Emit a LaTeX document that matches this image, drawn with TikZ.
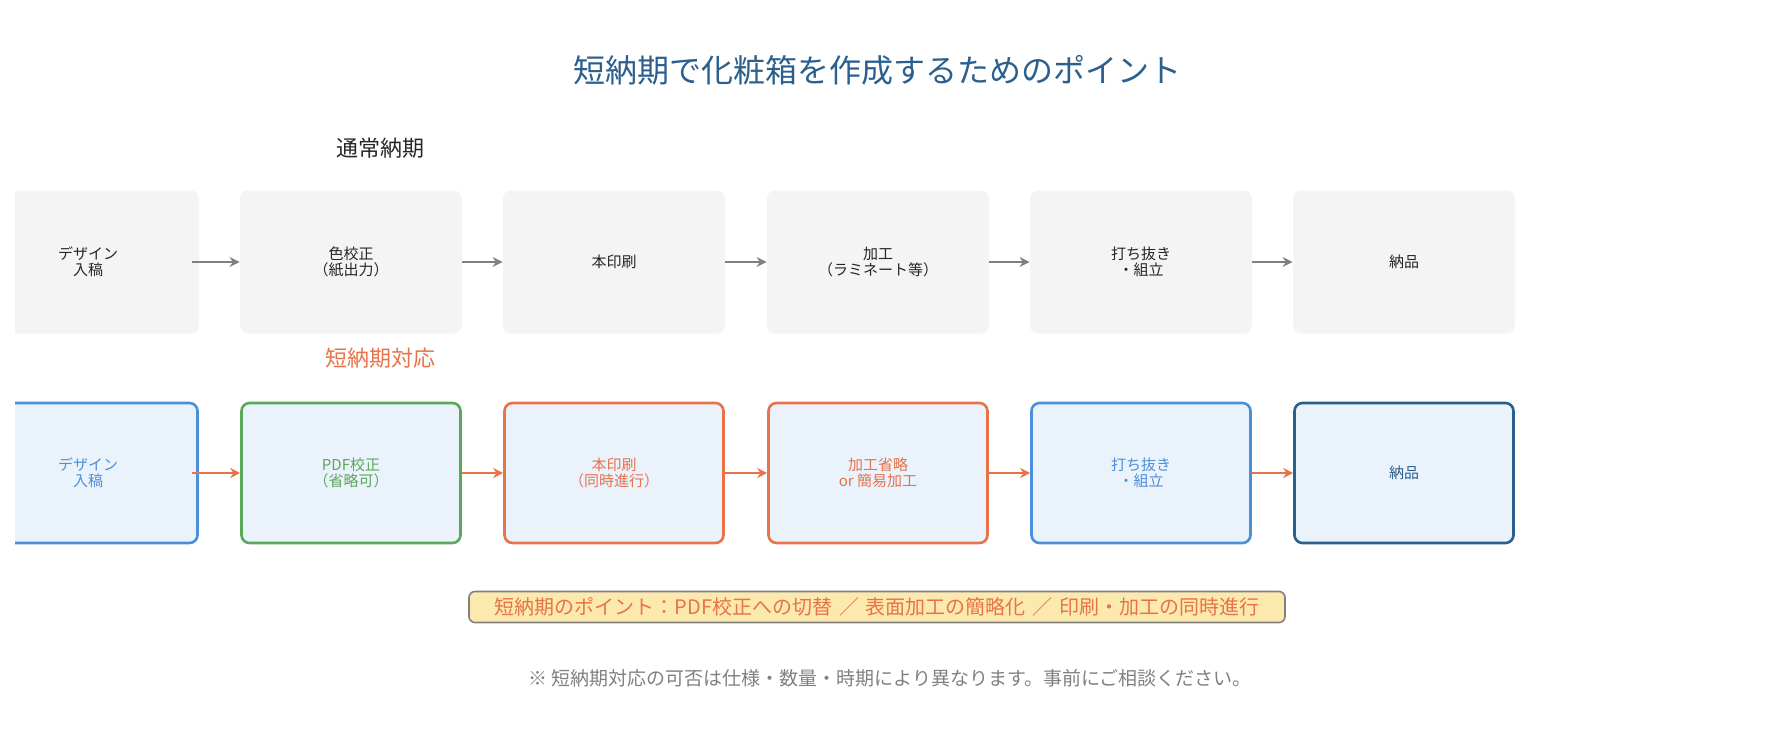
\documentclass[tikz,border=0pt]{standalone}
\usetikzlibrary{arrows.meta}
\usepackage{fontspec}
\setmainfont{Noto Sans CJK JP}
\definecolor{cblue}{HTML}{4A90D9}
\definecolor{cgreen}{HTML}{5BA85B}
\definecolor{corange}{HTML}{E8734A}
\definecolor{cdark}{HTML}{2B5F8E}
\definecolor{cfill}{HTML}{EAF2FB}
\definecolor{cgray}{HTML}{F4F4F4}
\definecolor{carrow}{HTML}{808080}
\definecolor{cnote}{HTML}{FCE9AE}
\begin{document}
\begin{tikzpicture}[x=0.5pt,y=-0.5pt,
  top/.style={rectangle,rounded corners=4pt,fill=cgray,minimum width=111pt,minimum height=71.5pt,align=center,font=\fontsize{7.5}{8}\selectfont,text=black!85},
  bot/.style={rectangle,rounded corners=4pt,fill=cfill,line width=1.3pt,minimum width=109.5pt,minimum height=70pt,align=center,font=\fontsize{7.5}{8}\selectfont},
  ga/.style={->,>={Stealth[length=5pt,width=5pt]},draw=carrow,line width=1.3pt},
  oa/.style={->,>={Stealth[length=5pt,width=5pt]},draw=corange,line width=1.3pt}]
\useasboundingbox (0,0) rectangle (1785,735);
\node (title) at (877,70) {\fontsize{16}{18}\selectfont\color{cdark}短納期で化粧箱を作成するためのポイント};
\node (l1) at (380,148) {\fontsize{11}{13}\selectfont\color{black!85}通常納期};
\node (l2) at (380,358) {\fontsize{11}{13}\selectfont\color{corange}短納期対応};
\begin{scope}
\clip (15,0) rectangle (1785,735);
\node[top] (t1) at (88,262) {デザイン\\入稿};
\node[bot,draw=cblue,text=cblue] (b1) at (88,473) {デザイン\\入稿};
\end{scope}
\node[top] (t2) at (351,262) {色校正\\（紙出力）};
\node[top] (t3) at (614,262) {本印刷};
\node[top] (t4) at (878,262) {加工\\（ラミネート等）};
\node[top] (t5) at (1141,262) {打ち抜き\\・組立};
\node[top] (t6) at (1404,262) {納品};
\node[bot,draw=cgreen,text=cgreen] (b2) at (351,473) {PDF校正\\（省略可）};
\node[bot,draw=corange,text=corange] (b3) at (614,473) {本印刷\\（同時進行）};
\node[bot,draw=corange,text=corange] (b4) at (878,473) {加工省略\\or 簡易加工};
\node[bot,draw=cblue,text=cblue] (b5) at (1141,473) {打ち抜き\\・組立};
\node[bot,draw=cdark,text=cdark] (b6) at (1404,473) {納品};
\coordinate (t1e) at (192,262);
\coordinate (b1e) at (192,473);
\draw[ga] (t1e) -- (t2);
\draw[oa] (b1e) -- (b2);
\foreach \a/\b in {2/3,3/4,4/5,5/6}{
  \draw[ga] (t\a) -- (t\b);
  \draw[oa] (b\a) -- (b\b);
}
\node[draw=carrow,fill=cnote,rounded corners=3pt,line width=0.8pt,inner sep=2pt,minimum height=15.5pt,text width=404pt,align=center,font=\fontsize{10}{12}\selectfont,text=corange] (pts) at (877,607) {短納期のポイント：PDF校正への切替 ／ 表面加工の簡略化 ／ 印刷・加工の同時進行};
\node[font=\fontsize{9.5}{11}\selectfont,text=carrow] (note) at (890,678) {※ 短納期対応の可否は仕様・数量・時期により異なります。事前にご相談ください。};
\end{tikzpicture}
\end{document}
